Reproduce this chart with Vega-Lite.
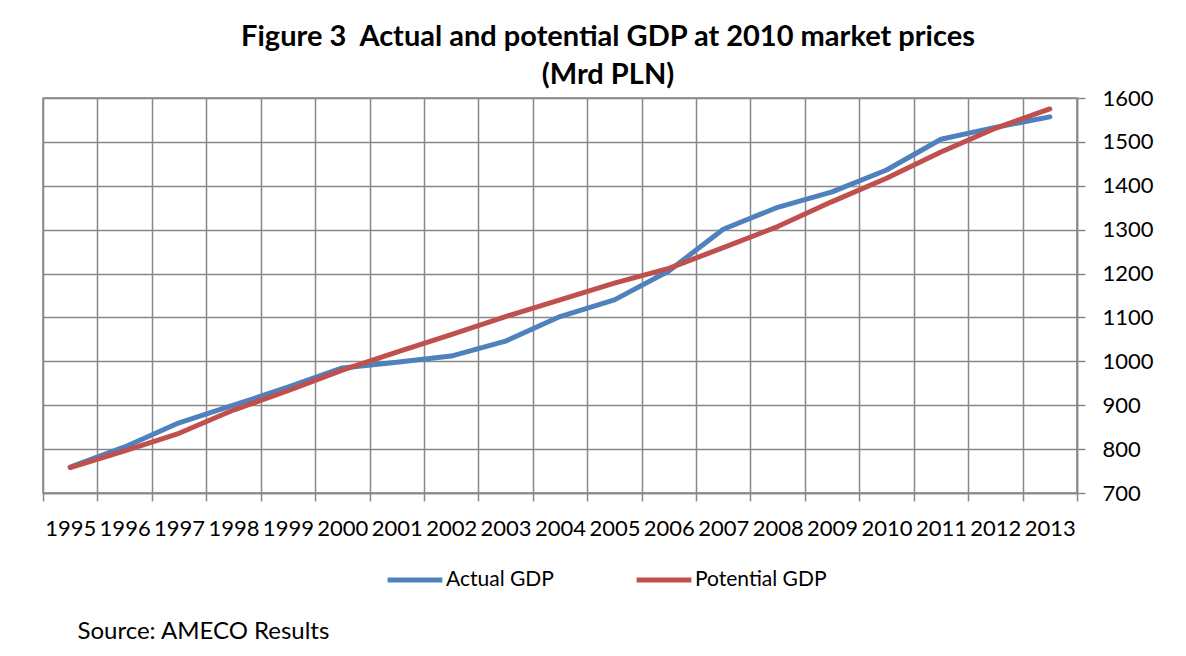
{
  "$schema": "https://vega.github.io/schema/vega-lite/v6.json",
  "autosize": {"type": "none"},
  "padding": {"left": 43, "top": 98, "right": 109, "bottom": 163},
  "width": 1034,
  "height": 395,
  "background": "white",
  "config": {
    "font": "Lato",
    "view": {"stroke": "#888888", "strokeWidth": 1.5}
  },
  "title": {
    "text": ["Figure 3\u00a0\u00a0Actual and potential GDP at 2010 market prices", "(Mrd PLN)"],
    "font": "Lato",
    "fontSize": 29,
    "fontWeight": "bold",
    "color": "black",
    "lineHeight": 38,
    "anchor": "middle",
    "dx": 48,
    "offset": -3
  },
  "data": {
    "values": [
      {"year": 1995, "series": "Actual GDP", "value": 759},
      {"year": 1996, "series": "Actual GDP", "value": 805},
      {"year": 1997, "series": "Actual GDP", "value": 860},
      {"year": 1998, "series": "Actual GDP", "value": 900},
      {"year": 1999, "series": "Actual GDP", "value": 941},
      {"year": 2000, "series": "Actual GDP", "value": 985},
      {"year": 2001, "series": "Actual GDP", "value": 998},
      {"year": 2002, "series": "Actual GDP", "value": 1012},
      {"year": 2003, "series": "Actual GDP", "value": 1046},
      {"year": 2004, "series": "Actual GDP", "value": 1102},
      {"year": 2005, "series": "Actual GDP", "value": 1140},
      {"year": 2006, "series": "Actual GDP", "value": 1206},
      {"year": 2007, "series": "Actual GDP", "value": 1301},
      {"year": 2008, "series": "Actual GDP", "value": 1351},
      {"year": 2009, "series": "Actual GDP", "value": 1386},
      {"year": 2010, "series": "Actual GDP", "value": 1436},
      {"year": 2011, "series": "Actual GDP", "value": 1506},
      {"year": 2012, "series": "Actual GDP", "value": 1533},
      {"year": 2013, "series": "Actual GDP", "value": 1557},
      {"year": 1995, "series": "Potential GDP", "value": 758},
      {"year": 1996, "series": "Potential GDP", "value": 796},
      {"year": 1997, "series": "Potential GDP", "value": 836},
      {"year": 1998, "series": "Potential GDP", "value": 889},
      {"year": 1999, "series": "Potential GDP", "value": 933},
      {"year": 2000, "series": "Potential GDP", "value": 980},
      {"year": 2001, "series": "Potential GDP", "value": 1021},
      {"year": 2002, "series": "Potential GDP", "value": 1061},
      {"year": 2003, "series": "Potential GDP", "value": 1102},
      {"year": 2004, "series": "Potential GDP", "value": 1140},
      {"year": 2005, "series": "Potential GDP", "value": 1178},
      {"year": 2006, "series": "Potential GDP", "value": 1212},
      {"year": 2007, "series": "Potential GDP", "value": 1259},
      {"year": 2008, "series": "Potential GDP", "value": 1307},
      {"year": 2009, "series": "Potential GDP", "value": 1364},
      {"year": 2010, "series": "Potential GDP", "value": 1417},
      {"year": 2011, "series": "Potential GDP", "value": 1477},
      {"year": 2012, "series": "Potential GDP", "value": 1531},
      {"year": 2013, "series": "Potential GDP", "value": 1575}
    ]
  },
  "mark": {"type": "line", "strokeWidth": 5, "strokeCap": "round", "strokeJoin": "round"},
  "encoding": {
    "x": {
      "field": "year",
      "type": "quantitative",
      "scale": {"domain": [1994.5, 2013.5], "nice": false, "zero": false},
      "axis": {
        "values": [1994.5, 1995.5, 1996.5, 1997.5, 1998.5, 1999.5, 2000.5, 2001.5, 2002.5, 2003.5, 2004.5, 2005.5, 2006.5, 2007.5, 2008.5, 2009.5, 2010.5, 2011.5, 2012.5, 2013.5],
        "labelExpr": "datum.value > 2013 ? '' : format(datum.value + 0.5, 'd')",
        "labelOffset": 27.2,
        "labelOverlap": false,
        "labelFlush": false,
        "labelBound": false,
        "labelFont": "Lato",
        "labelFontSize": 22,
        "labelColor": "black",
        "labelPadding": 17,
        "grid": true,
        "gridColor": "#888888",
        "gridWidth": 1.5,
        "ticks": true,
        "tickSize": 8,
        "tickColor": "#888888",
        "tickWidth": 1.5,
        "domain": true,
        "domainColor": "#888888",
        "domainWidth": 1.5,
        "title": "Source: AMECO Results",
        "titleFont": "Lato",
        "titleFontSize": 24,
        "titleFontWeight": "normal",
        "titleColor": "black",
        "titleAlign": "left",
        "titleBaseline": "alphabetic",
        "titleX": 34,
        "titleY": 145
      }
    },
    "y": {
      "field": "value",
      "type": "quantitative",
      "scale": {"domain": [700, 1600], "nice": false, "zero": false},
      "axis": {
        "orient": "right",
        "values": [700, 800, 900, 1000, 1100, 1200, 1300, 1400, 1500, 1600],
        "format": "d",
        "title": null,
        "labelFont": "Lato",
        "labelFontSize": 22,
        "labelColor": "black",
        "labelPadding": 17,
        "grid": true,
        "gridColor": "#888888",
        "gridWidth": 1.5,
        "ticks": true,
        "tickSize": 8,
        "tickColor": "#888888",
        "tickWidth": 1.5,
        "domainColor": "#888888",
        "domainWidth": 1.5
      }
    },
    "color": {
      "field": "series",
      "type": "nominal",
      "scale": {"domain": ["Actual GDP", "Potential GDP"], "range": ["#4F81BD", "#C0504D"]},
      "legend": {
        "title": null,
        "orient": "none",
        "direction": "horizontal",
        "legendX": 342,
        "legendY": 452,
        "symbolType": "stroke",
        "symbolSize": 3000,
        "symbolStrokeWidth": 5,
        "labelFont": "Lato",
        "labelFontSize": 21,
        "labelColor": "black",
        "labelOffset": 1,
        "columnPadding": 72
      }
    }
  }
}
